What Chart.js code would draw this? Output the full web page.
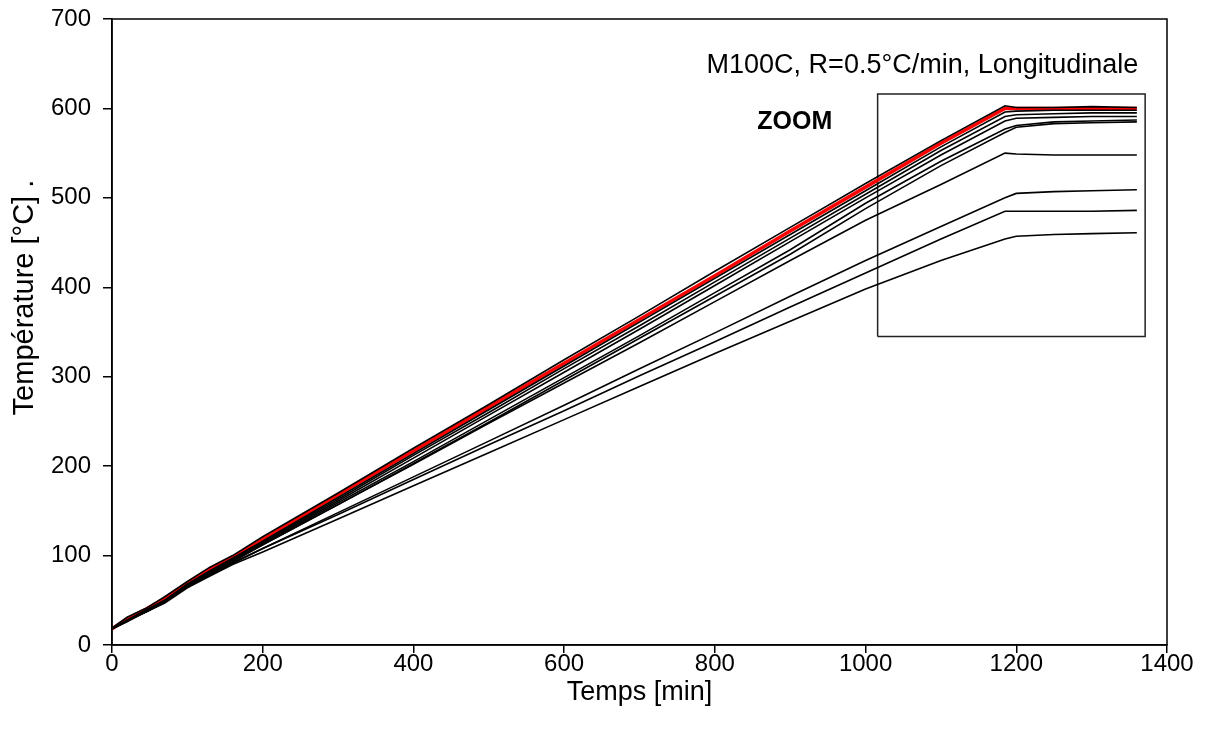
<!DOCTYPE html>
<html>
<head>
<meta charset="utf-8">
<script src="https://cdn.jsdelivr.net/npm/chart.js@4"></script>
<style>
  body { margin: 0; background: #fff; }
  #wrap { width: 1207px; height: 740px; }
</style>
</head>
<body>
<div id="wrap"><canvas id="chart" width="1207" height="740"></canvas></div>
<script>
// time points (min), shared by all curves
const times = [0, 20, 45, 70, 100, 130, 160, 200, 300, 400, 500, 600, 700, 800, 900, 1000, 1100, 1185, 1200, 1250, 1300, 1360];

// temperatures (°C), one array per thermocouple
const tcA = [19, 31, 41, 54, 71, 87, 100, 121, 170, 220, 269, 319, 368, 418, 467, 516, 564, 603, 601, 601, 602, 601];
const tcRed = [18, 29, 40, 52, 69, 85, 98, 118, 168, 217, 266, 315, 364, 413, 463, 512, 561, 600, 600, 600, 600, 600];
const tcB = [18, 27, 39, 50, 68, 83, 97, 116, 165, 214, 263, 312, 361, 410, 459, 508, 557, 596, 597, 598, 598, 598];
const tcC = [18, 28, 39, 50, 68, 82, 96, 115, 163, 212, 260, 309, 357, 406, 455, 504, 553, 591, 593, 594, 595, 595];
const tcD = [18, 27, 38, 49, 67, 81, 95, 114, 161, 209, 257, 305, 353, 402, 451, 500, 548, 586, 589, 590, 591, 591];
const tcE = [18, 27, 38, 49, 67, 81, 95, 113, 159, 205, 252, 299, 346, 394, 442, 494, 541, 577, 581, 585, 586, 587];
const tcF = [18, 27, 38, 49, 66, 80, 94, 112, 157, 203, 249, 296, 343, 390, 437, 488, 536, 573, 579, 583, 584, 585];
const tcG = [18, 27, 38, 49, 66, 80, 93, 112, 157, 202, 248, 293, 338, 384, 430, 475, 515, 550, 549, 548, 548, 548];
const tcH = [18, 27, 37, 48, 65, 79, 92, 108, 148, 188, 228, 268, 309, 349, 390, 430, 468, 500, 505, 507, 508, 509];
const tcI = [18, 27, 37, 48, 65, 78, 91, 108, 146, 185, 224, 262, 301, 339, 378, 416, 454, 485, 485, 485, 485, 486];
const tcJ = [18, 26, 37, 47, 64, 77, 90, 104, 141, 178, 215, 252, 289, 326, 362, 398, 430, 454, 457, 459, 460, 461];

// the "ZOOM" frame, in data units
const boxX = [1016, 1371, 1371, 1016, 1016];
const boxY = [345, 345, 616, 616, 345];

// axis ticks
const xTicks = [0, 200, 400, 600, 800, 1000, 1200, 1400];
const yTicks = [0, 100, 200, 300, 400, 500, 600, 700];

const FONT = "'Liberation Sans', Arial, sans-serif";

function toPoints(xs, ys) {
    return xs.map((x, i) => ({ x: x, y: ys[i] }));
}

function curve(values, color, width) {
    return {
        data: toPoints(times, values),
        borderColor: color,
        borderWidth: width,
        pointRadius: 0,
        tension: 0,
        fill: false
    };
}

const blackCurves = [tcA, tcB, tcC, tcD, tcE, tcF, tcG, tcH, tcI, tcJ];
const datasets = blackCurves.map(v => curve(v, '#000', 1.6));
datasets.push(curve(tcRed, '#ff0000', 3.5));
datasets.push({
    data: toPoints(boxX, boxY),
    borderColor: '#222',
    borderWidth: 1.5,
    pointRadius: 0,
    tension: 0,
    fill: false
});

// frame around the plot, the y title and the two text notes
const extras = {
    id: 'extras',
    afterDraw(chart) {
        const ctx = chart.ctx;
        const a = chart.chartArea;
        const xs = chart.scales.x, ys = chart.scales.y;
        ctx.save();
        ctx.strokeStyle = '#000';
        ctx.lineWidth = 1.5;
        ctx.strokeRect(a.left, a.top, a.right - a.left, a.bottom - a.top);
        ctx.fillStyle = '#000';
        ctx.textBaseline = 'middle';
        ctx.textAlign = 'right';
        ctx.font = '27px ' + FONT;
        ctx.fillText('M100C, R=0.5°C/min, Longitudinale', xs.getPixelForValue(1362), ys.getPixelForValue(648));
        ctx.textAlign = 'center';
        ctx.font = 'bold 25px ' + FONT;
        ctx.fillText('ZOOM', xs.getPixelForValue(906), ys.getPixelForValue(585));
        // y axis title, sits a bit above the middle as in the original
        ctx.font = '29px ' + FONT;
        ctx.translate(25, a.top + (a.bottom - a.top) * 0.445);
        ctx.rotate(-Math.PI / 2);
        ctx.fillText('Température [°C] .', 0, 0);
        ctx.restore();
    }
};

new Chart(document.getElementById('chart'), {
    type: 'line',
    data: { datasets: datasets },
    options: {
        responsive: false,
        animation: false,
        events: [],
        layout: { padding: { left: 0, top: 19, right: 40, bottom: 29 } },
        plugins: {
            legend: { display: false },
            tooltip: { enabled: false }
        },
        scales: {
            x: {
                type: 'linear',
                min: 0,
                max: 1400,
                afterBuildTicks: s => { s.ticks = xTicks.map(v => ({ value: v })); },
                afterFit: s => { s.height = 66; },
                ticks: { color: '#000', font: { family: FONT, size: 24 }, padding: -3, maxRotation: 0, callback: v => String(v) },
                grid: { drawOnChartArea: false, tickLength: 8, color: '#000', lineWidth: 1.5 },
                border: { color: '#000', width: 1.5 },
                title: { display: true, text: 'Temps [min]', color: '#000', font: { family: FONT, size: 27 }, padding: { top: 0, bottom: 2 } }
            },
            y: {
                min: 0,
                max: 700,
                afterBuildTicks: s => { s.ticks = yTicks.map(v => ({ value: v })); },
                afterFit: s => { s.width = 112; s.paddingTop = 0; s.paddingBottom = 0; },
                ticks: { color: '#000', font: { family: FONT, size: 24 }, padding: 12, callback: v => String(v) },
                grid: { drawOnChartArea: false, tickLength: 9, color: '#000', lineWidth: 1.5 },
                border: { color: '#000', width: 1.5 }
            }
        }
    },
    plugins: [extras]
});
</script>
</body>
</html>
